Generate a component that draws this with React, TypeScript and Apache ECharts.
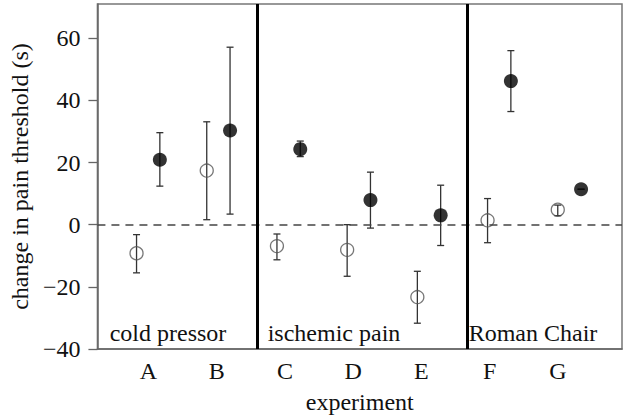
import React, { useEffect, useRef } from "react";
import * as echarts from "echarts";

const categories = ["A", "B", "C", "D", "E", "F", "G"];
const openMean = [-9.2, 17.4, -6.9, -8.1, -23.3, 1.4, 4.8];
const openLow = [-15.5, 1.6, -11.3, -16.6, -31.7, -5.8, 2.9];
const openHigh = [-3.2, 33.1, -3.0, 0, -15.0, 8.4, 6.3];
const filledMean = [20.9, 30.3, 24.3, 7.9, 3.0, 46.2, 11.4];
const filledLow = [12.4, 3.4, 21.9, -1.1, -6.7, 36.4, 11.4];
const filledHigh = [29.6, 57.1, 26.9, 16.9, 12.7, 56.0, 11.4];
const groupNames = ["cold pressor", "ischemic pain", "Roman Chair"];
const groupBoundaries = [1.556, 4.553];
const yTicks = [-40, -20, 0, 20, 40, 60];

const FONT = "'Liberation Serif', 'DejaVu Serif', serif";
const FS = 24;
const OFFSET = 0.166;

export default function App() {
  const ref = useRef<HTMLDivElement>(null);
  useEffect(() => {
    if (!ref.current) return;
    const chart = echarts.init(ref.current, undefined, { renderer: "svg" });

    const openPts = categories.map((_, i) => [i - OFFSET, openMean[i]]);
    const filledPts = categories.map((_, i) => [i + OFFSET, filledMean[i]]);
    const errData = [
      ...categories.map((_, i) => [i - OFFSET, openLow[i], openHigh[i]]),
      ...categories.map((_, i) => [i + OFFSET, filledLow[i], filledHigh[i]]),
    ];

    const renderErr = (params: any, api: any) => {
      const x = api.value(0);
      const lo = api.coord([x, api.value(1)]);
      const hi = api.coord([x, api.value(2)]);
      const hw = 3.5;
      const style = { stroke: "#333", lineWidth: 1.3, fill: "none" };
      return {
        type: "group",
        children: [
          { type: "line", shape: { x1: lo[0], y1: lo[1], x2: hi[0], y2: hi[1] }, style },
          { type: "line", shape: { x1: lo[0] - hw, y1: lo[1], x2: lo[0] + hw, y2: lo[1] }, style },
          { type: "line", shape: { x1: hi[0] - hw, y1: hi[1], x2: hi[0] + hw, y2: hi[1] }, style },
        ],
      };
    };

    const groupCenters = [168, 334, 533];

    chart.setOption({
      animation: false,
      textStyle: { fontFamily: FONT },
      grid: {
        left: 90,
        right: 3,
        top: 4,
        bottom: 65,
        show: true,
        borderColor: "#777",
        borderWidth: 1.5,
      },
      xAxis: [
        {
          type: "value",
          min: -0.747,
          max: 6.94,
          name: "experiment",
          nameLocation: "middle",
          nameGap: 41,
          nameTextStyle: { fontFamily: FONT, fontSize: FS, color: "#111" },
          axisLine: { show: true, onZero: false, lineStyle: { color: "#666", width: 1.5 } },
          axisTick: { show: false },
          splitLine: { show: false },
          axisLabel: {
            customValues: categories.map((_, i) => i),
            formatter: (v: number) => categories[Math.round(v)] ?? "",
            fontFamily: FONT,
            fontSize: FS,
            color: "#111",
            margin: 10,
          },
        },
        {
          type: "value",
          min: -0.723,
          max: 6.749,
          show: false,
          axisLine: { onZero: false },
          splitLine: { show: false },
        },
      ],
      yAxis: {
        type: "value",
        min: -40,
        max: 71,
        name: "change in pain threshold (s)",
        nameLocation: "middle",
        nameGap: 64,
        nameTextStyle: { fontFamily: FONT, fontSize: FS, color: "#111" },
        axisLine: { show: true, onZero: false, lineStyle: { color: "#666", width: 1.5 } },
        axisTick: { show: true, length: 9, lineStyle: { color: "#666", width: 1.3 }, customValues: yTicks },
        splitLine: { show: false },
        axisLabel: {
          customValues: yTicks,
          formatter: (v: number) => String(v).replace("-", "\u2212"),
          fontFamily: FONT,
          fontSize: FS,
          color: "#111",
          margin: 17,
        },
      },
      series: [
        {
          type: "custom",
          xAxisIndex: 1,
          renderItem: renderErr,
          data: errData,
          z: 3,
          markLine: {
            silent: true,
            symbol: "none",
            label: { show: false },
            data: [
              { yAxis: 0, lineStyle: { color: "#444", width: 1.5, type: [8, 6] } },
              ...groupBoundaries.map((b) => ({
                xAxis: b,
                lineStyle: { color: "#000", width: 3, type: "solid" },
              })),
            ],
          },
        },
        {
          type: "scatter",
          xAxisIndex: 1,
          data: openPts,
          symbol: "circle",
          symbolSize: 13,
          itemStyle: { color: "transparent", borderColor: "#555", borderWidth: 1.3 },
          z: 4,
        },
        {
          type: "scatter",
          xAxisIndex: 1,
          data: filledPts,
          symbol: "circle",
          symbolSize: 14,
          itemStyle: { color: "#000" },
          z: 5,
        },
      ],
      graphic: groupNames.map((name, i) => ({
        type: "text",
        x: groupCenters[i],
        y: 333,
        style: {
          text: name,
          fontFamily: FONT,
          fontSize: FS,
          fill: "#111",
          textAlign: "center",
          textVerticalAlign: "middle",
        },
      })),
    });
    return () => chart.dispose();
  }, []);
  return <div ref={ref} style={{ width: 625, height: 419, position: "absolute", left: 0, top: 0 }} />;
}
